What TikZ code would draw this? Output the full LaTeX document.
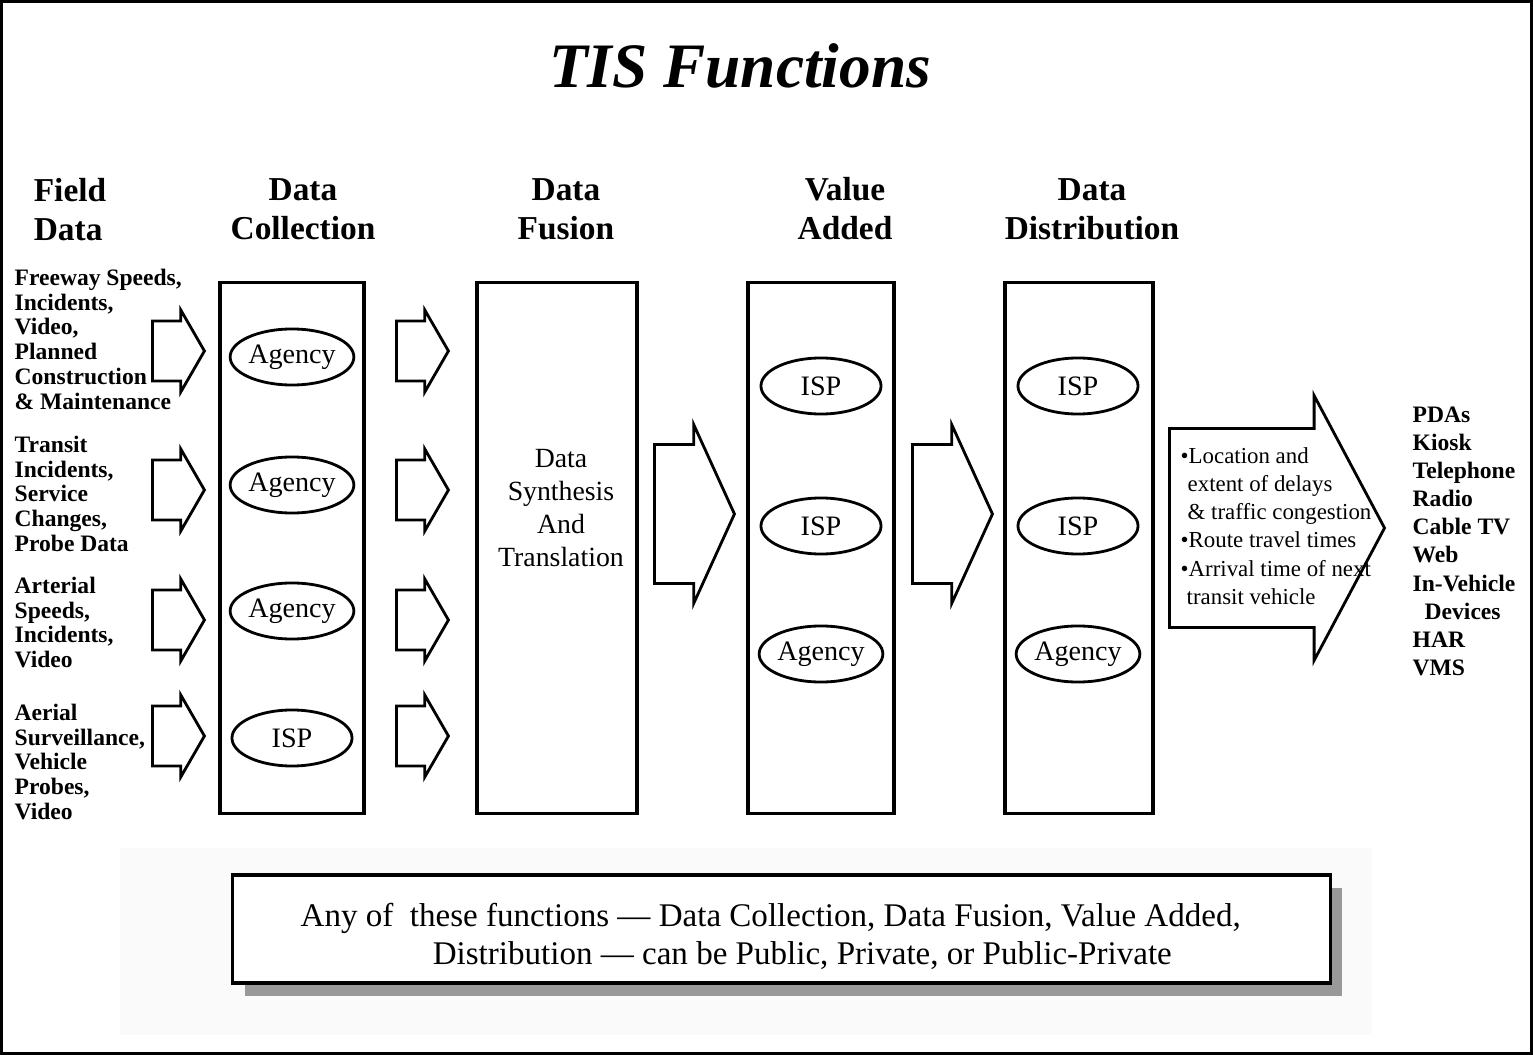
\documentclass[tikz,border=0pt]{standalone}
\usepackage{fontspec}
\setmainfont{Liberation Serif}
\usetikzlibrary{shapes.geometric, shapes.arrows, shadows, positioning}

\begin{document}
\begin{tikzpicture}[x=0.01cm, y=-0.01cm,
    stage/.style={draw, line width=0.9pt, rectangle, minimum height=5.3cm, inner sep=0},
    party/.style={draw, ellipse, line width=0.8pt, minimum width=1.2cm, minimum height=0.56cm,
                  inner sep=0, font=\fontsize{8}{9.6}\selectfont},
    heading/.style={anchor=north, align=center, inner sep=0, font=\bfseries\fontsize{9.5}{11.1}\selectfont},
    feed/.style={anchor=north west, align=left, inner sep=0, font=\bfseries\fontsize{6.7}{7.1}\selectfont},
    smallarrow/.style={draw, single arrow, line width=0.8pt, inner xsep=0, inner ysep=0.285cm, anchor=tail,
                  minimum height=0.52cm,
                  single arrow head extend=0.11cm, single arrow tip angle=120},
    bigarrow/.style={draw, single arrow, line width=0.8pt, inner xsep=0, inner ysep=0.68cm, anchor=tail,
                  minimum height=0.8cm,
                  single arrow head extend=0.2cm, single arrow tip angle=131}]
    \useasboundingbox (0,0) rectangle (1533,1055);
    % frame and title
    \draw[line width=0.9pt] (1.5,1.5) rectangle (1531.5,1053.5);
    \node[anchor=base, inner sep=0, font=\bfseries\itshape\fontsize{18}{21}\selectfont] (title) at (740,88) {TIS Functions};

    % column headings
    \node[heading, align=left] (hfield) at (70,178) {Field\\Data};
    \node[heading] (hcoll) at (303,178) {Data\\Collection};
    \node[heading] (hfus) at (566,178) {Data\\Fusion};
    \node[heading] (hval) at (845,177) {Value\\Added};
    \node[heading] (hdist) at (1092,178) {Data\\Distribution};

    % field data
    \node[feed] (f1) at (14,268) {Freeway Speeds,\\Incidents,\\Video,\\Planned\\Construction\\\& Maintenance};
    \node[feed] (f2) at (14,435) {Transit\\Incidents,\\Service\\Changes,\\Probe Data};
    \node[feed] (f3) at (14,576) {Arterial\\Speeds,\\Incidents,\\Video};
    \node[feed] (f4) at (14,703) {Aerial\\Surveillance,\\Vehicle\\Probes,\\Video};

    % the four stages
    \node[stage, minimum width=1.44cm] (collect) at (292,548) {};
    \node[stage, minimum width=1.60cm] (fusion) at (557,548) {};
    \node[align=center, inner sep=0, font=\fontsize{7.9}{9.4}\selectfont] (synth) at (561,508)
          {Data\\Synthesis\\And\\Translation};
    \node[stage, minimum width=1.46cm] (value) at (821,548) {};
    \node[stage, minimum width=1.48cm] (distrib) at (1079,548) {};

    % who does it
    \node[party] (c1) at (292,357) {Agency};
    \node[party] (c2) at (292,485) {Agency};
    \node[party] (c3) at (292,611) {Agency};
    \node[party] (c4) at (292,738) {ISP};
    \node[party] (v1) at (821,386) {ISP};
    \node[party] (v2) at (821,526) {ISP};
    \node[party] (v3) at (821,654) {Agency};
    \node[party] (d1) at (1078,386) {ISP};
    \node[party] (d2) at (1078,526) {ISP};
    \node[party] (d3) at (1078,654) {Agency};

    % block arrows
    \node[smallarrow] (in1) at (151,351) {};
    \node[smallarrow] (in2) at (151,490) {};
    \node[smallarrow] (in3) at (151,620) {};
    \node[smallarrow] (in4) at (151,736) {};
    \node[smallarrow] (out1) at (395,351) {};
    \node[smallarrow] (out2) at (395,490) {};
    \node[smallarrow] (out3) at (395,620) {};
    \node[smallarrow] (out4) at (395,736) {};
    \node[bigarrow] (fv) at (653,514) {};
    \node[bigarrow] (vd) at (911,514) {};
    \node[draw, single arrow, line width=0.8pt, inner xsep=0, inner ysep=0.98cm, anchor=tail,
          minimum height=2.15cm,
          single arrow head extend=0.33cm, single arrow tip angle=124] (deliver) at (1168,528) {};
    \node[anchor=north west, align=left, inner sep=0,
          font=\fontsize{6.5}{8}\selectfont] (info) at (1180,447)
          {•Location and\\\kern0.07cm extent of delays\\\kern0.07cm \& traffic congestion\\•Route travel times\\•Arrival time of next\\\kern0.06cm transit vehicle};

    % devices
    \node[feed, font=\bfseries\fontsize{6.7}{8}\selectfont] (devices) at (1412,406)
          {PDAs\\Kiosk\\Telephone\\Radio\\Cable TV\\Web\\In-Vehicle\\\kern0.12cm Devices\\HAR\\VMS};

    % note at the bottom
    \fill[black!2] (120,848) rectangle (1372,1035);
    \node[draw, fill=white, line width=0.9pt, minimum width=10.97cm, minimum height=1.08cm,
          drop shadow={shadow xshift=0.12cm, shadow yshift=-0.13cm, fill=black!65, opacity=0.6}] (note) at (781.5,929) {};
    \node[anchor=west, align=left, inner sep=0, font=\fontsize{9.4}{10.8}\selectfont] (notetext) at (300,936)
          {Any of\ \ these functions --- Data Collection, Data Fusion, Value Added,\\\kern1.32cm Distribution --- can be Public, Private, or Public-Private};
\end{tikzpicture}
\end{document}
